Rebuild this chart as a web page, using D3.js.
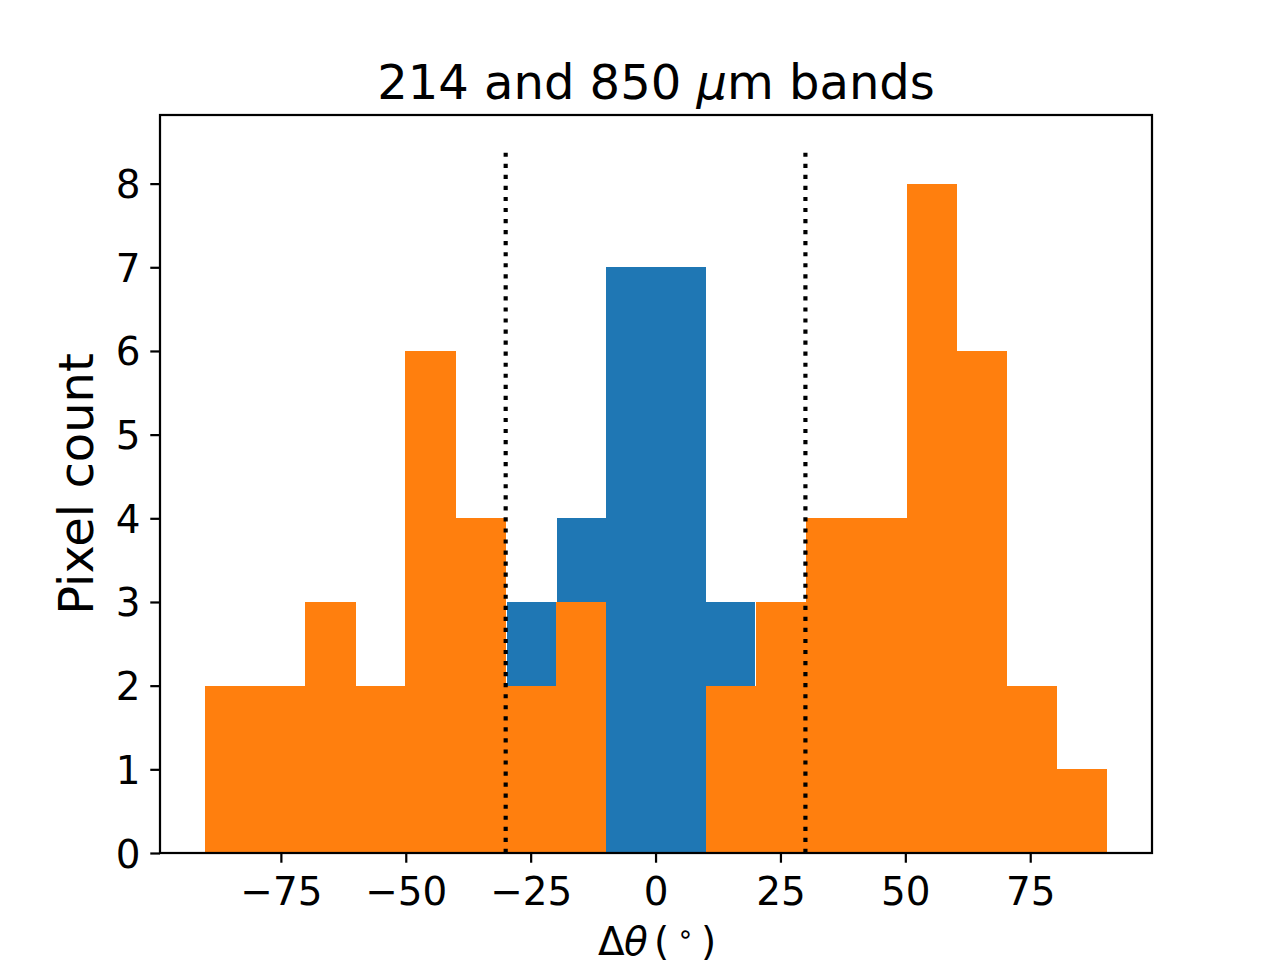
<!DOCTYPE html>
<html>
<head>
<meta charset="utf-8">
<script src="https://cdn.jsdelivr.net/npm/d3@7"></script>
<style>
  body { margin: 0; background: #fff; }
  svg { display: block; font-family: "DejaVu Sans", sans-serif; }
</style>
</head>
<body>
<svg id="chart" width="1280" height="960"></svg>
<script>
// histogram counts (orange drawn over blue)
const orangeCounts = [2, 2, 3, 2, 6, 4, 2, 3, 0, 0, 2, 3, 4, 4, 8, 6, 2, 1]
const orangeRange = [-90.17, 90.35]
const blueCounts = [3, 4, 7, 7, 3]
const blueRange = [-29.7, 19.8]
const cutLines = [-30, 30]
const cutTop = 8.4
const xTicks = [-75, -50, -25, 0, 25, 50, 75]
const yTicks = [0, 1, 2, 3, 4, 5, 6, 7, 8]

const margin = { left: 160, top: 115, right: 128, bottom: 107 }
const width = 1280 - margin.left - margin.right
const height = 960 - margin.top - margin.bottom
const lw = 2.22

function toBins (counts, range) {
  const step = (range[1] - range[0]) / counts.length
  return counts.map((c, i) => ({ x0: range[0] + i * step, x1: range[0] + (i + 1) * step, n: c }))
}

const orangeBins = toBins(orangeCounts, orangeRange)
const blueBins = toBins(blueCounts, blueRange)

const lo = Math.min(orangeRange[0], blueRange[0])
const hi = Math.max(orangeRange[1], blueRange[1])
const pad = (hi - lo) * 0.05
const xScale = d3.scaleLinear().domain([lo - pad, hi + pad]).range([0, width])
const yScale = d3.scaleLinear().domain([0, cutTop * 1.05]).range([height, 0])

const svg = d3.select('#chart')
svg.append('rect').attr('width', 1280).attr('height', 960).attr('fill', '#fff')

const g = svg.append('g').attr('transform', `translate(${margin.left},${margin.top})`)

function drawBars (bins, color) {
  g.append('g').attr('shape-rendering', 'crispEdges')
    .selectAll('rect')
    .data(bins.filter(d => d.n > 0))
    .join('rect')
    .attr('x', d => xScale(d.x0))
    .attr('y', d => yScale(d.n))
    .attr('width', d => xScale(d.x1) - xScale(d.x0) + 0.5)
    .attr('height', d => yScale(0) - yScale(d.n))
    .attr('fill', color)
}
drawBars(blueBins, '#1f77b4')
drawBars(orangeBins, '#ff7f0e')

// dotted cut lines, drawn bottom-up like matplotlib vlines
g.append('g').selectAll('line')
  .data(cutLines)
  .join('line')
  .attr('x1', d => xScale(d))
  .attr('x2', d => xScale(d))
  .attr('y1', yScale(0))
  .attr('y2', yScale(cutTop))
  .attr('stroke', '#000')
  .attr('stroke-width', 4.17)
  .attr('stroke-dasharray', '4.17,6.88')

// axes
const xAxis = d3.axisBottom(xScale).tickValues(xTicks).tickSize(9.72).tickSizeOuter(0)
const yAxis = d3.axisLeft(yScale).tickValues(yTicks).tickSize(9.72).tickSizeOuter(0).tickPadding(9.72)

const gx = g.append('g').attr('transform', `translate(0,${height})`).call(xAxis)
const gy = g.append('g').call(yAxis)

for (const ax of [gx, gy]) {
  ax.select('.domain').remove()
  ax.selectAll('line').attr('stroke', '#000').attr('stroke-width', lw)
  ax.selectAll('text')
    .attr('fill', '#000')
    .attr('font-family', 'DejaVu Sans')
    .attr('font-size', 38.9)
}
gx.selectAll('text').attr('dy', null).attr('y', 52)
gy.selectAll('text').attr('dy', '0.36em')

g.append('rect')
  .attr('width', width)
  .attr('height', height)
  .attr('fill', 'none')
  .attr('stroke', '#000')
  .attr('stroke-width', lw)

// title
const title = svg.append('text')
  .attr('x', margin.left + width / 2)
  .attr('y', 99)
  .attr('text-anchor', 'middle')
  .attr('font-size', 48)
  .attr('fill', '#000')
title.append('tspan').text('214 and 850 ')
title.append('tspan').attr('font-style', 'italic').text('μ')
title.append('tspan').text('m bands')

// y label
svg.append('text')
  .attr('transform', `translate(93,${margin.top + height / 2}) rotate(-90)`)
  .attr('text-anchor', 'middle')
  .attr('font-size', 48)
  .attr('fill', '#000')
  .text('Pixel count')

// x label: Δθ (∘), cut by the bottom edge as in the original
const xl = svg.append('g').attr('font-size', 38.9).attr('fill', '#000')
xl.append('text').attr('x', 598).attr('y', 955).text('Δ')
xl.append('text').attr('x', 624).attr('y', 955).attr('font-style', 'italic').text('θ')
xl.append('text').attr('x', 654).attr('y', 955).text('(')
xl.append('text').attr('x', 677).attr('y', 943).attr('font-size', 27).text('∘')
xl.append('text').attr('x', 701).attr('y', 955).text(')')
</script>
</body>
</html>
